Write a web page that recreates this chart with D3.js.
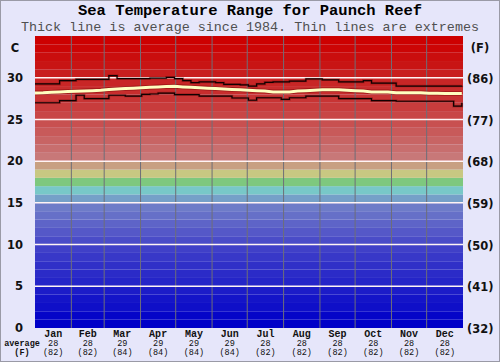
<!DOCTYPE html>
<html>
<head>
<meta charset="utf-8">
<script src="https://cdn.jsdelivr.net/npm/d3@7"></script>
<style>
  body { margin: 0; background: #e6e6fa; }
  svg { display: block; }
</style>
</head>
<body>
<div id="chart"></div>
<script>
// months and their monthly averages
let months = ["Jan", "Feb", "Mar", "Apr", "May", "Jun", "Jul", "Aug", "Sep", "Oct", "Nov", "Dec"];
let monthDays = [31, 28, 31, 30, 31, 30, 31, 31, 30, 31, 30, 31];
let monthAvgC = [28, 28, 29, 29, 29, 29, 28, 28, 28, 28, 28, 28];
let monthAvgF = [82, 82, 84, 84, 84, 84, 82, 82, 82, 82, 82, 82];

// axis ticks
let celsiusTicks = [0, 5, 10, 15, 20, 25, 30];
let fahrenheitLabels = ["(32)", "(41)", "(50)", "(59)", "(68)", "(77)", "(86)"];

// day of year for each reading (weekly)
let days = [0, 7, 14, 21, 28, 35, 42, 49, 56, 63, 70, 77, 84, 91, 98, 105, 112, 119, 126, 133,
    140, 147, 154, 161, 168, 175, 182, 189, 196, 203, 210, 217, 224, 231, 238, 245, 252, 259,
    266, 273, 280, 287, 294, 301, 308, 315, 322, 329, 336, 343, 350, 357, 364];

let maxTemp = [29.25, 29.25, 29.25, 29.65, 29.65, 29.8, 29.8, 29.8, 29.8, 30.25, 29.9, 29.9, 29.9,
    29.9, 29.95, 29.95, 30.05, 29.9, 29.65, 29.4, 29.5, 29.5, 29.4, 29.2, 29.2, 29.15, 29.0,
    29.25, 29.45, 29.5, 29.5, 29.6, 29.6, 29.85, 29.85, 29.75, 29.75, 29.5, 29.5, 29.5, 29.65,
    29.35, 29.35, 29.35, 29.0, 29.0, 29.0, 29.0, 29.0, 29.0, 29.0, 29.0, 29.05];

let minTemp = [27.0, 27.0, 27.0, 27.25, 27.25, 27.9, 27.5, 27.5, 27.5, 27.9, 27.9, 27.8, 27.8,
    28.0, 28.05, 28.15, 28.15, 27.97, 27.97, 27.97, 27.8, 27.8, 27.8, 27.8, 27.57, 27.57, 27.3,
    27.6, 27.6, 27.6, 27.4, 27.6, 27.6, 27.8, 27.8, 27.8, 27.8, 27.5, 27.5, 27.5, 27.5,
    27.25, 27.25, 27.25, 27.18, 27.18, 27.18, 27.18, 27.18, 27.18, 27.18, 26.6, 27.0];

let avgTemp = [28.18, 28.2, 28.25, 28.3, 28.35, 28.38, 28.42, 28.45, 28.5, 28.6, 28.65, 28.7, 28.75,
    28.8, 28.85, 28.9, 28.95, 28.97, 28.9, 28.85, 28.8, 28.75, 28.7, 28.65, 28.6, 28.55, 28.5,
    28.45, 28.4, 28.3, 28.3, 28.3, 28.4, 28.45, 28.5, 28.55, 28.55, 28.55, 28.5, 28.45, 28.4,
    28.3, 28.3, 28.3, 28.2, 28.2, 28.2, 28.2, 28.15, 28.15, 28.1, 28.1, 28.1];

// colour of each 1 degree band, 0C upwards
let bandColors = ["#0000c8", "#0505c8", "#0f0fc8", "#1414c8", "#1c1cc8", "#2525c8", "#2b2bc8",
    "#3030c8", "#3838c8", "#4040c8", "#4a4cc8", "#5558c8", "#5e64c8", "#6670c8", "#6e7cc8",
    "#75a0c8", "#78c8c8", "#7ec87e", "#c8c882", "#c8a082", "#c87878", "#c86e6e", "#c86464",
    "#c85a5a", "#c85050", "#c84646", "#c83c3c", "#c83434", "#c82d2d", "#c82626", "#c81e1e",
    "#c81414", "#ca0e0e", "#cc0505", "#cd0000"];

function init() {
    let width = 500;
    let height = 362;
    let left = 35, right = 463, top = 36, bottom = 328;

    let svg = d3.select("#chart")
        .append("svg")
        .attr("width", width)
        .attr("height", height);

    svg.append("rect")
        .attr("x", 0.5).attr("y", 0.5)
        .attr("width", width - 1).attr("height", height - 1)
        .attr("fill", "#e6e6fa")
        .attr("stroke", "#9a9aa6");

    let xScale = d3.scaleLinear().domain([0, 365]).range([left, right]);
    let yScale = d3.scaleLinear().domain([0, 35]).range([bottom, top]);

    // coloured bands
    svg.append("g")
        .selectAll("rect")
        .data(bandColors)
        .join("rect")
        .attr("x", left)
        .attr("width", right - left)
        .attr("y", (d, i) => yScale(i + 1))
        .attr("height", (d, i) => yScale(i) - yScale(i + 1))
        .attr("fill", d => d);

    // month boundaries
    let monthStart = d3.cumsum([0].concat(monthDays)).slice(0, 12);
    svg.append("g")
        .selectAll("line")
        .data(monthStart.slice(1))
        .join("line")
        .attr("x1", d => xScale(d)).attr("x2", d => xScale(d))
        .attr("y1", top).attr("y2", bottom)
        .attr("stroke", "#6e6e78")
        .attr("stroke-width", 1);

    // horizontal gridlines
    svg.append("g")
        .selectAll("line")
        .data(celsiusTicks.slice(1))
        .join("line")
        .attr("x1", left).attr("x2", right)
        .attr("y1", d => yScale(d)).attr("y2", d => yScale(d))
        .attr("stroke", "#fff4f4")
        .attr("stroke-width", 1.5);

    let series = (vals) => days.map((d, i) => ({ x: d, y: vals[i] }));

    let stepLine = d3.line()
        .curve(d3.curveStepAfter)
        .x(d => xScale(d.x))
        .y(d => yScale(d.y));

    let smoothLine = d3.line()
        .x(d => xScale(d.x))
        .y(d => yScale(d.y));

    [maxTemp, minTemp].forEach(function (vals) {
        svg.append("path")
            .datum(series(vals))
            .attr("fill", "none")
            .attr("stroke", "#5a0000")
            .attr("stroke-opacity", 0.3)
            .attr("stroke-width", 2.6)
            .attr("d", stepLine);
        svg.append("path")
            .datum(series(vals))
            .attr("fill", "none")
            .attr("stroke", "#100000")
            .attr("stroke-width", 1.2)
            .attr("d", stepLine);
    });

    svg.append("path")
        .datum(series(avgTemp))
        .attr("fill", "none")
        .attr("stroke", "#700000")
        .attr("stroke-opacity", 0.5)
        .attr("stroke-width", 4.6)
        .attr("d", smoothLine);
    svg.append("path")
        .datum(series(avgTemp))
        .attr("fill", "none")
        .attr("stroke", "#ffffc0")
        .attr("stroke-width", 3)
        .attr("d", smoothLine);

    // left axis (C)
    let leftAxis = svg.append("g")
        .attr("transform", "translate(23,0)")
        .call(d3.axisLeft(yScale).tickValues(celsiusTicks).tickSize(0).tickPadding(0));
    leftAxis.select(".domain").remove();
    leftAxis.selectAll("text")
        .attr("font-family", "DejaVu Sans")
        .attr("font-weight", "bold")
        .attr("font-size", 11.5)
        .attr("fill", "#111");

    // right axis (F)
    let rightAxis = svg.append("g")
        .attr("transform", "translate(467,1)")
        .call(d3.axisRight(yScale).tickValues(celsiusTicks).tickSize(0).tickPadding(0)
            .tickFormat((d, i) => fahrenheitLabels[i]));
    rightAxis.select(".domain").remove();
    rightAxis.selectAll("text")
        .attr("font-family", "DejaVu Sans")
        .attr("font-weight", "bold")
        .attr("font-size", 11.5)
        .attr("fill", "#111");

    svg.append("text")
        .attr("x", 15).attr("y", 52)
        .attr("text-anchor", "middle")
        .attr("font-family", "DejaVu Sans").attr("font-weight", "bold").attr("font-size", 11.5)
        .attr("fill", "#111")
        .text("C");
    svg.append("text")
        .attr("x", 480).attr("y", 52)
        .attr("text-anchor", "middle")
        .attr("font-family", "DejaVu Sans").attr("font-weight", "bold").attr("font-size", 11.5)
        .attr("fill", "#111")
        .text("(F)");

    // titles
    svg.append("text")
        .attr("x", width / 2).attr("y", 15)
        .attr("text-anchor", "middle")
        .attr("font-family", "Liberation Mono").attr("font-weight", "bold").attr("font-size", 15.5)
        .attr("fill", "#000")
        .text("Sea Temperature Range for Paunch Reef");
    svg.append("text")
        .attr("x", width / 2).attr("y", 31)
        .attr("text-anchor", "middle")
        .attr("font-family", "Liberation Mono").attr("font-size", 13.4)
        .attr("fill", "#505050")
        .text("Thick line is average since 1984. Thin lines are extremes");

    // month labels
    let labels = svg.append("g")
        .selectAll("g")
        .data(months)
        .join("g")
        .attr("transform", (d, i) => "translate(" + xScale(monthStart[i] + monthDays[i] / 2) + ",0)")
        .attr("font-family", "Liberation Mono")
        .attr("text-anchor", "middle")
        .attr("fill", "#111");
    labels.append("text")
        .attr("y", 337)
        .attr("font-weight", "bold").attr("font-size", 10)
        .text(d => d);
    labels.append("text")
        .attr("y", 346)
        .attr("font-size", 8.5)
        .text((d, i) => monthAvgC[i]);
    labels.append("text")
        .attr("y", 355)
        .attr("font-size", 8.5)
        .text((d, i) => "(" + monthAvgF[i] + ")");

    svg.append("text")
        .attr("x", 22).attr("y", 346)
        .attr("text-anchor", "middle")
        .attr("font-family", "Liberation Mono").attr("font-weight", "bold").attr("font-size", 8.5)
        .attr("fill", "#111")
        .text("average");
    svg.append("text")
        .attr("x", 22).attr("y", 355)
        .attr("text-anchor", "middle")
        .attr("font-family", "Liberation Mono").attr("font-weight", "bold").attr("font-size", 8.5)
        .attr("fill", "#111")
        .text("(F)");
}

window.addEventListener('load', init);
</script>
</body>
</html>
